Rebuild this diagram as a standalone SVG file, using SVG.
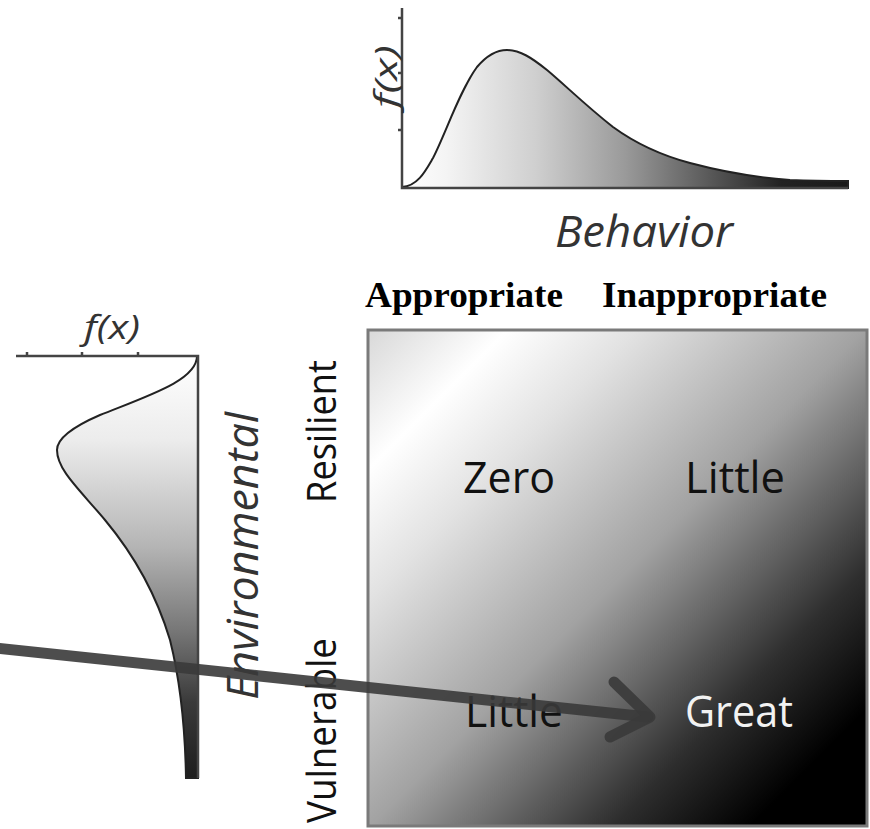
<svg xmlns="http://www.w3.org/2000/svg" width="870" height="829" viewBox="0 0 870 829">
<defs>
<linearGradient id="gTop" gradientUnits="userSpaceOnUse" x1="402" y1="0" x2="848" y2="0">
<stop offset="0" stop-color="#ffffff"/>
<stop offset="0.1" stop-color="#f4f4f4"/>
<stop offset="0.3" stop-color="#cfcfcf"/>
<stop offset="0.5" stop-color="#9a9a9a"/>
<stop offset="0.7" stop-color="#555"/>
<stop offset="0.85" stop-color="#222"/>
<stop offset="1" stop-color="#1a1a1a"/>
</linearGradient>
<linearGradient id="gLeft" gradientUnits="userSpaceOnUse" x1="0" y1="356" x2="0" y2="778">
<stop offset="0" stop-color="#ffffff"/>
<stop offset="0.2" stop-color="#ececec"/>
<stop offset="0.45" stop-color="#b5b5b5"/>
<stop offset="0.65" stop-color="#777"/>
<stop offset="0.82" stop-color="#3a3a3a"/>
<stop offset="1" stop-color="#1e1e1e"/>
</linearGradient>
<linearGradient id="gBox" gradientUnits="userSpaceOnUse" x1="368" y1="330" x2="868" y2="828">
<stop offset="0" stop-color="#d8d8d8"/>
<stop offset="0.14" stop-color="#ffffff"/>
<stop offset="0.27" stop-color="#e2e2e2"/>
<stop offset="0.5" stop-color="#a2a2a2"/>
<stop offset="0.74" stop-color="#2e2e2e"/>
<stop offset="0.88" stop-color="#000000"/>
<stop offset="1" stop-color="#000000"/>
</linearGradient>
</defs>
<style>
.ax{stroke:#444;stroke-width:2.5;fill:none}
.curve{stroke:#222;stroke-width:2;}
.sans{font-family:"Open Sans","DejaVu Sans",sans-serif;}
.it{font-style:italic;fill:#333;}
.cell{font-size:44px;fill:#111;}
.side{font-size:40px;fill:#111;}
.head{font-family:"Liberation Serif","Times New Roman",serif;font-weight:bold;font-size:35px;fill:#000;}
.arrow{stroke:#3a3a3a;stroke-opacity:0.9;stroke-width:11;fill:none;stroke-linecap:round;stroke-linejoin:round;}
</style>
<g id="top-plot">
<path class="curve" fill="url(#gTop)" d="M402,187 C418,186 426,170 433,158 C445,135 460,90 477,67 C488,54 497,50 507,50 C520,50 532,58 547,70 C565,85 585,105 613,127 C635,143 660,155 690,163 C720,171 750,177 790,180 C815,181 835,181 848,181 L848,188 L402,188 Z"/>
<path class="ax" d="M402,8 V188 H848"/>
<path class="ax" d="M398,18 H402 M398,73 H402 M398,130 H402"/>
<text class="sans it" font-size="31" transform="translate(397,108) rotate(-90)" textLength="63" lengthAdjust="spacingAndGlyphs">f(x)</text>
<text class="sans it" font-size="44" x="555" y="247" textLength="178" lengthAdjust="spacingAndGlyphs">Behavior</text>
</g>
<g id="left-plot">
<path class="curve" fill="url(#gLeft)" d="M197,356 C197,380 150,395 100,415 C70,428 57,440 57,450 C57,470 80,490 105,520 C130,550 155,590 170,640 C180,680 185,720 186,778 L198,778 L198,356 Z"/>
<path class="ax" d="M16,356 H198 V778"/>
<path class="ax" d="M27,352 V356 M82,352 V356 M138,352 V356"/>
<text class="sans it" font-size="32" x="84" y="339" textLength="56" lengthAdjust="spacingAndGlyphs">f(x)</text>
<text class="sans it" font-size="44" transform="translate(258,700) rotate(-90)" textLength="288" lengthAdjust="spacingAndGlyphs">Environmental</text>
</g>
<g id="row-labels">
<text class="sans side" transform="translate(336,503) rotate(-90)" textLength="143" lengthAdjust="spacingAndGlyphs">Resilient</text>
<text class="sans side" transform="translate(336,823) rotate(-90)" textLength="185" lengthAdjust="spacingAndGlyphs">Vulnerable</text>
</g>
<g id="col-labels">
<text class="head" x="365" y="307" textLength="198" lengthAdjust="spacingAndGlyphs">Appropriate</text>
<text class="head" x="602" y="307" textLength="225" lengthAdjust="spacingAndGlyphs">Inappropriate</text>
</g>
<g id="matrix">
<rect x="368" y="330" width="499" height="496" fill="url(#gBox)" stroke="#7a7a7a" stroke-width="3"/>
<text class="sans cell" x="463" y="493" textLength="92" lengthAdjust="spacingAndGlyphs">Zero</text>
<text class="sans cell" x="685" y="493" textLength="100" lengthAdjust="spacingAndGlyphs">Little</text>
<text class="sans cell" x="465" y="727" textLength="98" lengthAdjust="spacingAndGlyphs">Little</text>
<text class="sans cell" x="685" y="727" textLength="108" lengthAdjust="spacingAndGlyphs" style="fill:#f2f2f2">Great</text>
</g>
<g id="connectors">
<path class="arrow" d="M-5,648 L648,717"/>
<path class="arrow" d="M614,682 L650,717 L610,737"/>
</g>
</svg>
